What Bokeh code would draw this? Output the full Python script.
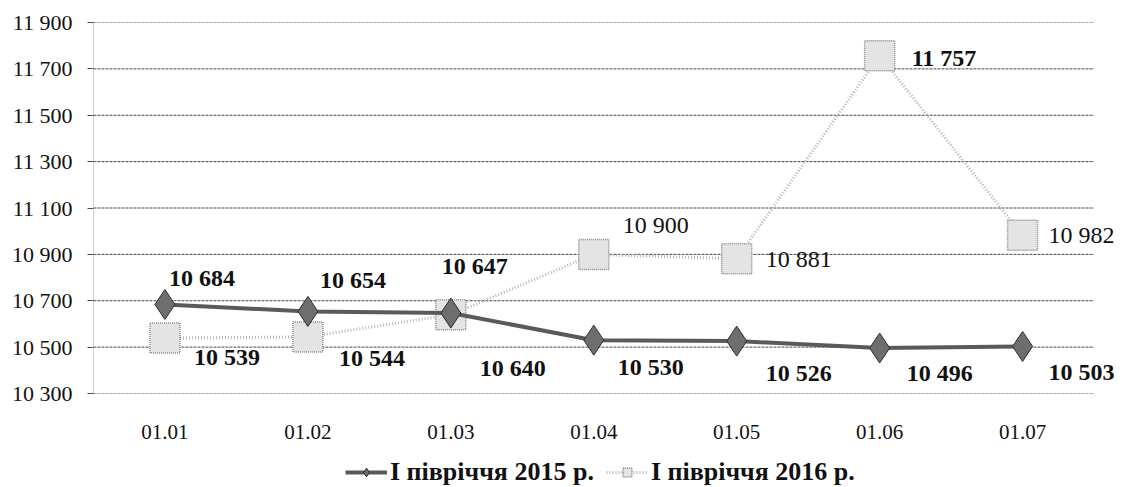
from bokeh.plotting import figure
from bokeh.layouts import column
from bokeh.models import ColumnDataSource, Range1d, FixedTicker, Legend, LegendItem
from bokeh.core.properties import value
from bokeh.embed import file_html
from bokeh.resources import INLINE

# ---- data ----
categories = ["01.01", "01.02", "01.03", "01.04", "01.05", "01.06", "01.07"]
values_2015 = [10684, 10654, 10647, 10530, 10526, 10496, 10503]
values_2016 = [10539, 10544, 10640, 10900, 10881, 11757, 10982]
series_names = ["І півріччя 2015 р.", "І півріччя 2016 р."]
y_ticks = [10300, 10500, 10700, 10900, 11100, 11300, 11500, 11700, 11900]
y_tick_labels = ["10 300", "10 500", "10 700", "10 900", "11 100",
                 "11 300", "11 500", "11 700", "11 900"]


def fmt(v):
    return f"{v:,}".replace(",", " ")


# category slots on a numeric axis (slot centres)
xpos = [i + 0.5 for i in range(len(categories))]
n_slots = len(categories)

# ---- layout / style of the value labels (pixels) ----
dx_2015 = [4, 12, -9, 24, 29, 27, 26]
dy_2015 = [-26, -31, -47, 27, 32, 25, 26]
dx_2016 = [29, 31, 29, 29, 29, 32, 26]
dy_2016 = [19, 21, 53, -29, 0, 2, 0]
fs_2016 = ["bold", "bold", "bold", "normal", "normal", "bold", "normal"]

FONT = "Liberation Serif"
W = 1125

# styles of the two series
S15_LINE = dict(line_color="#5a5a5a", line_width=4)
S15_MARK = dict(marker="diamond", size=30, fill_color="#6e6e6e",
                line_color="#2e2e2e", line_width=1)
S16_LINE = dict(line_color="#b5b5b5", line_width=3, line_dash="1 2")
S16_MARK = dict(marker="square", size=30, fill_color="#e4e4e4",
                line_color="#8a8a8a", line_width=1.5, line_dash="1 1")

src15 = ColumnDataSource(dict(x=xpos, y=values_2015,
                              lab=[fmt(v) for v in values_2015],
                              dx=dx_2015, dy=dy_2015))
src16 = ColumnDataSource(dict(x=xpos, y=values_2016,
                              lab=[fmt(v) for v in values_2016],
                              dx=dx_2016, dy=dy_2016, fs=fs_2016))
grid_src = ColumnDataSource(dict(x0=[0] * len(y_ticks),
                                 x1=[n_slots] * len(y_ticks),
                                 y=y_ticks))

p = figure(x_range=Range1d(0, n_slots + 0.22),
           y_range=Range1d(y_ticks[0], y_ticks[-1]),
           width=W, height=445, output_backend="svg", toolbar_location=None,
           min_border_left=93, min_border_right=0, min_border_top=22,
           min_border_bottom=52, background_fill_color="white",
           border_fill_color="white")
p.outline_line_color = None
p.xgrid.grid_line_color = None
p.ygrid.grid_line_color = None

# horizontal grid lines, ending at the last category slot
p.segment(x0="x0", x1="x1", y0="y", y1="y", source=grid_src,
          line_color="#4a4a4a", line_dash="3 1", line_width=1)

# y axis
p.yaxis.ticker = FixedTicker(ticks=y_ticks)
p.yaxis.major_label_overrides = {t: l for t, l in zip(y_ticks, y_tick_labels)}
p.yaxis.major_label_text_font = FONT
p.yaxis.major_label_text_font_size = "22px"
p.yaxis.major_label_text_color = "#111111"
p.yaxis.axis_line_color = "#9a9a9a"
p.yaxis.axis_line_dash = "1 1"
p.yaxis.major_tick_line_color = "#4a4a4a"
p.yaxis.major_tick_out = 6
p.yaxis.major_tick_in = 0
p.yaxis.minor_tick_line_color = None
p.yaxis.major_label_standoff = 15

# x axis
p.xaxis.ticker = FixedTicker(ticks=xpos)
p.xaxis.major_label_overrides = {x: c for x, c in zip(xpos, categories)}
p.xaxis.major_label_text_font = FONT
p.xaxis.major_label_text_font_size = "21px"
p.xaxis.major_label_text_color = "#111111"
p.xaxis.axis_line_color = None
p.xaxis.major_tick_line_color = None
p.xaxis.minor_tick_line_color = None
p.xaxis.major_label_standoff = 25

# series
p.line("x", "y", source=src16, **S16_LINE)
p.scatter("x", "y", source=src16, **S16_MARK)
p.line("x", "y", source=src15, **S15_LINE)
p.scatter("x", "y", source=src15, **S15_MARK)

# value labels
p.text("x", "y", text="lab", source=src15, x_offset="dx", y_offset="dy",
       text_align="left", text_baseline="middle", text_font=value(FONT),
       text_font_size="24px", text_font_style="bold", text_color="#111111")
p.text("x", "y", text="lab", source=src16, x_offset="dx", y_offset="dy",
       text_align="left", text_baseline="middle", text_font=value(FONT),
       text_font_size="24px", text_font_style="fs", text_color="#111111")

# ---- legend strip below the chart (frame aligned with the chart's frame) ----
lg = figure(width=W, height=42, output_backend="svg", toolbar_location=None,
            x_range=Range1d(0, 1), y_range=Range1d(0, 1),
            x_axis_type=None, y_axis_type=None,
            min_border_left=0, min_border_right=0, min_border_top=0,
            min_border_bottom=0, background_fill_color="white",
            border_fill_color="white")
lg.outline_line_color = None
lg.xgrid.grid_line_color = None
lg.ygrid.grid_line_color = None
nan = [float("nan")]
e15l = lg.line(x=nan, y=nan, **S15_LINE)
e15m = lg.scatter(x=nan, y=nan, **S15_MARK)
e16l = lg.line(x=nan, y=nan, **S16_LINE)
e16m = lg.scatter(x=nan, y=nan, **S16_MARK)

legend = Legend(items=[LegendItem(label=series_names[0], renderers=[e15l, e15m]),
                       LegendItem(label=series_names[1], renderers=[e16l, e16m])],
                orientation="horizontal", location=(252, 0),
                label_text_font=FONT, label_text_font_size="26px",
                label_text_font_style="bold", label_text_color="#111111",
                glyph_width=42, glyph_height=22, label_standoff=3, spacing=12,
                padding=0, margin=0, border_line_color=None,
                background_fill_alpha=0)
lg.add_layout(legend, "center")

layout = column(p, lg, spacing=0)
open("out.html", "w").write(file_html(layout, INLINE))
